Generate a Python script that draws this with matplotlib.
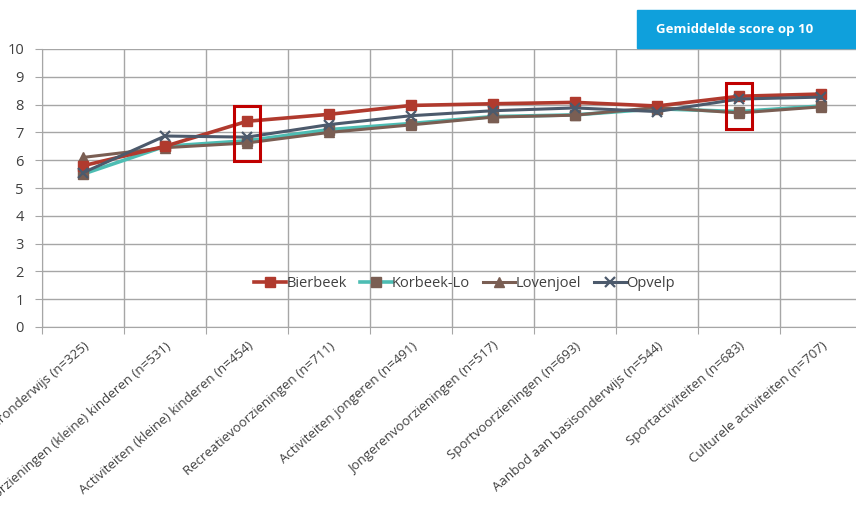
import matplotlib.pyplot as plt
from matplotlib.patches import Rectangle

plt.rcParams['font.family'] = ['Open Sans', 'DejaVu Sans']

# categories along the x axis
categories = [
    "Aanbod aan kleuteronderwijs (n=325)",
    "Voorzieningen (kleine) kinderen (n=531)",
    "Activiteiten (kleine) kinderen (n=454)",
    "Recreatievoorzieningen (n=711)",
    "Activiteiten jongeren (n=491)",
    "Jongerenvoorzieningen (n=517)",
    "Sportvoorzieningen (n=693)",
    "Aanbod aan basisonderwijs (n=544)",
    "Sportactiviteiten (n=683)",
    "Culturele activiteiten (n=707)",
]

# average scores per village
bierbeek   = [5.8, 6.5, 7.4, 7.65, 7.97, 8.03, 8.08, 7.95, 8.3, 8.38]
korbeek_lo = [5.5, 6.5, 6.7, 7.1, 7.32, 7.57, 7.63, 7.85, 7.75, 7.95]
lovenjoel  = [6.1, 6.45, 6.62, 7.0, 7.27, 7.55, 7.62, 7.9, 7.7, 7.92]
opvelp     = [5.55, 6.87, 6.83, 7.28, 7.6, 7.78, 7.88, 7.75, 8.2, 8.27]

y_ticks = list(range(0, 11))

fig = plt.figure(figsize=(8.56, 5.08), dpi=100)
ax = fig.add_axes([42 / 856, 181 / 508, 820 / 856, 278 / 508])

x = list(range(len(categories)))
ax.plot(x, bierbeek, color='#B03A2E', lw=2.6, marker='s', ms=7,
        mfc='#B03A2E', mec='#B03A2E', label='Bierbeek', zorder=4)
ax.plot(x, korbeek_lo, color='#4DBDB3', lw=2.6, marker='s', ms=7,
        mfc='#7A5E53', mec='#7A5E53', label='Korbeek-Lo', zorder=3)
ax.plot(x, lovenjoel, color='#7A5E53', lw=2.2, marker='^', ms=7,
        mfc='#7A5E53', mec='#7A5E53', label='Lovenjoel', zorder=3)
ax.plot(x, opvelp, color='#4C5A6C', lw=2.2, marker='x', ms=7, mew=1.6,
        label='Opvelp', zorder=5)

ax.set_xlim(-0.5, len(categories) - 0.5)
ax.set_ylim(0, 10)
ax.set_yticks(y_ticks)
ax.set_xticks([i + 0.5 for i in range(-1, len(categories))], minor=False)
ax.set_xticklabels([])
ax.set_xticks(x, minor=True)
ax.set_xticklabels(categories, minor=True, rotation=41, ha='right',
                   rotation_mode='anchor', fontsize=9.5, color='#404040')
ax.tick_params(axis='x', which='minor', length=0, pad=9)
ax.tick_params(axis='x', which='major', length=5, color='#A6A6A6', direction='out')
ax.tick_params(axis='y', length=5, color='#A6A6A6', labelsize=10.5, labelcolor='#404040', pad=8)

ax.grid(True, which='major', color='#A6A6A6', lw=1)
ax.set_axisbelow(True)
for side in ['top', 'right']:
    ax.spines[side].set_visible(False)
for side in ['left', 'bottom']:
    ax.spines[side].set_color('#A6A6A6')

# highlight boxes
for cx, y0, y1 in [(2, 5.97, 7.95), (8, 7.12, 8.78)]:
    ax.add_patch(Rectangle((cx - 0.16, y0), 0.32, y1 - y0, fill=False,
                           ec='#C00000', lw=2.2, zorder=6, clip_on=False))

leg = ax.legend(loc='center', bbox_to_anchor=(0.515, 0.155), ncol=4, frameon=False,
                fontsize=10.5, handlelength=2.2, handletextpad=0.0, columnspacing=0.9)
for t in leg.get_texts():
    t.set_color('#404040')

# title box in top right corner
fig.patches.append(Rectangle((637 / 856, 1 - 48 / 508), 1, 38 / 508,
                             transform=fig.transFigure, color='#0FA0DC', zorder=0))
fig.text(735 / 856, 1 - 29 / 508, 'Gemiddelde score op 10', color='white',
         fontsize=9.5, fontweight='bold', ha='center', va='center')

fig.savefig('out.png', dpi=100)
